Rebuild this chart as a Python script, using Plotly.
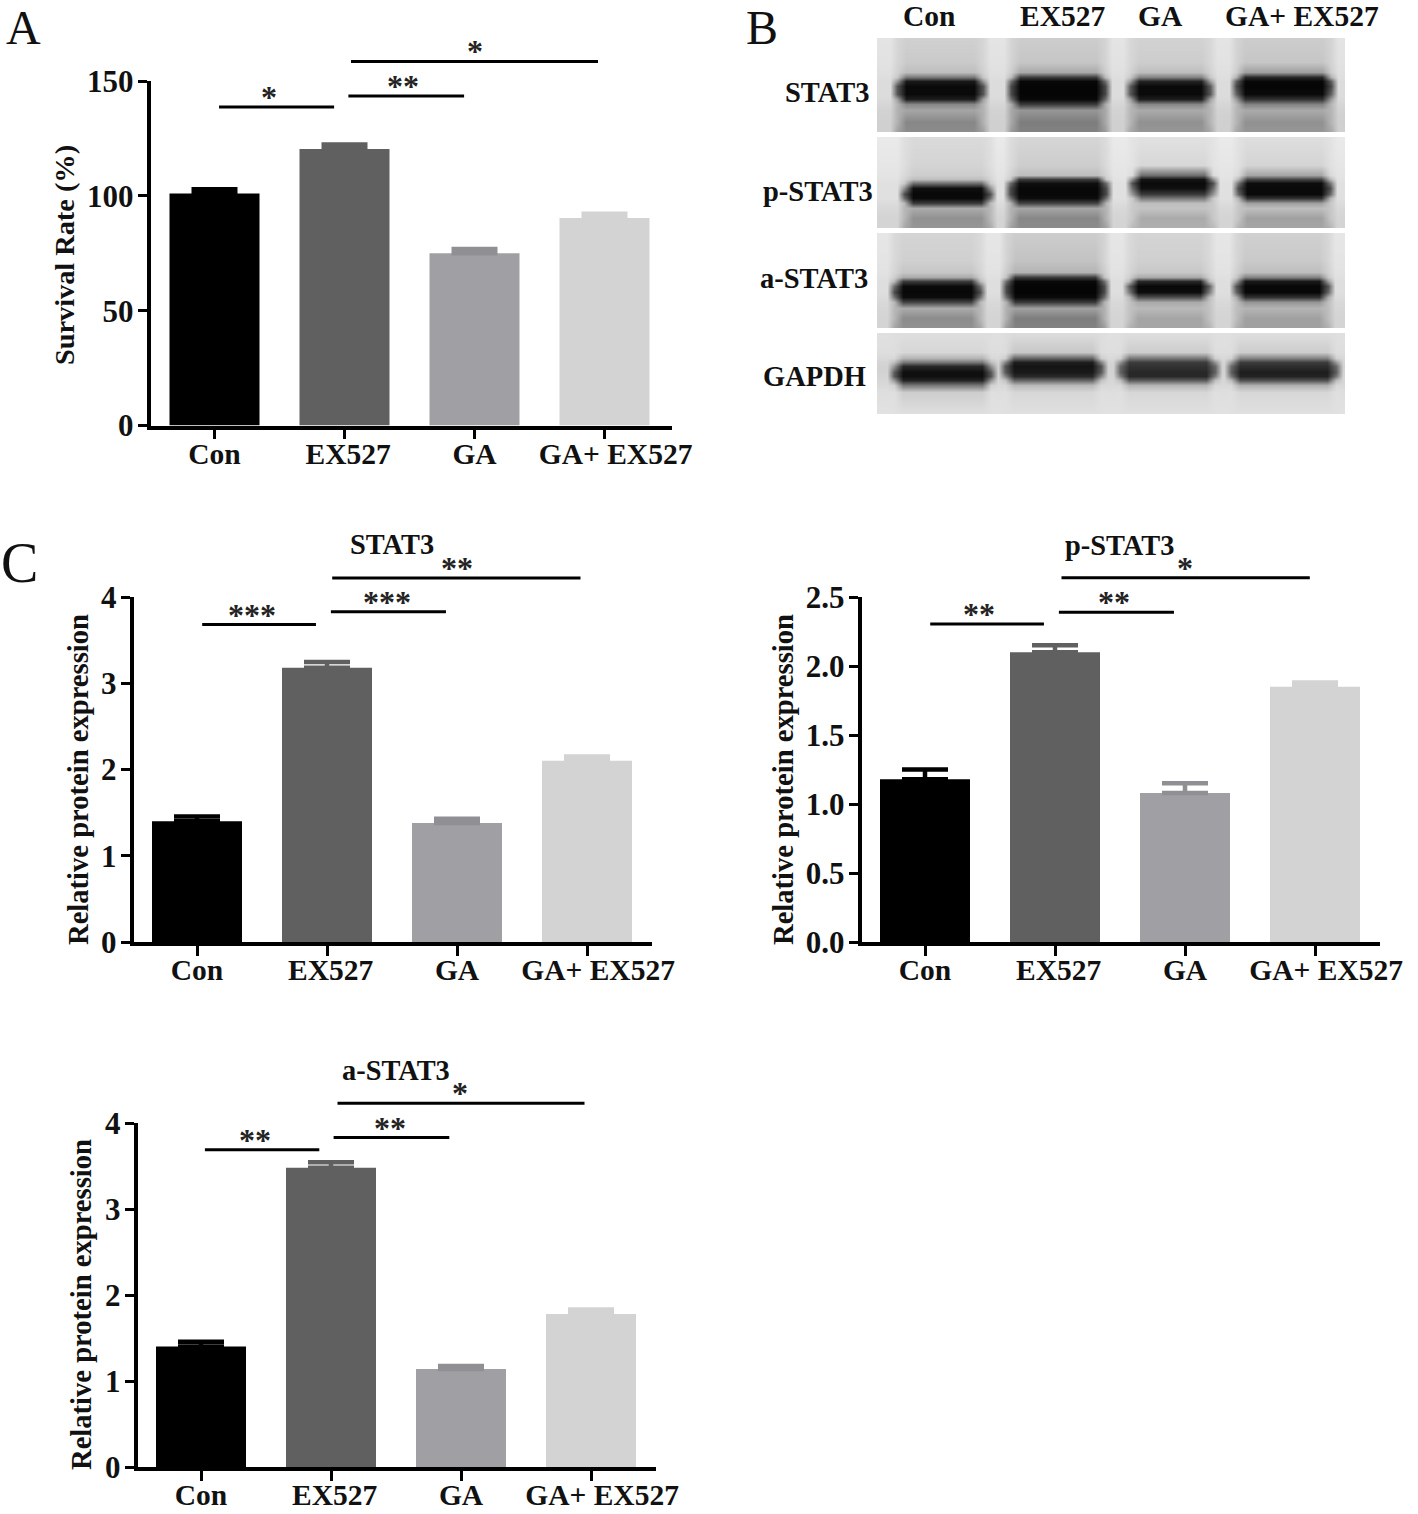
import plotly.graph_objects as go

W, H = 1418, 1514
FONT = "Liberation Serif"

# ---------- data ----------
categories = ["Con", "EX527", "GA", "GA+ EX527"]
bar_colors = ["#000000", "#606060", "#a0a0a4", "#d3d3d3"]
err_colors = ["#000000", "#606060", "#909094", "#d3d3d3"]

survival_values = [101, 120.4, 75, 90.3]
survival_err = [1.9, 1.9, 1.9, 1.9]
survival_ticks = [0, 50, 100, 150]
survival_sig_x0 = [0.035, 1.03, 1.05]
survival_sig_x1 = [0.92, 1.92, 2.95]
survival_sig_y = [138.7, 143.5, 158.5]
survival_sig_label = ["*", "**", "*"]
survival_star_x = [0.42, 1.45, 2.0]

stat3_values = [1.40, 3.18, 1.38, 2.10]
stat3_err = [0.055, 0.065, 0.05, 0.05]
stat3_ticks = [0, 1, 2, 3, 4]
stat3_sig_x0 = [0.04, 1.03, 1.04]
stat3_sig_x1 = [0.915, 1.915, 2.95]
stat3_sig_y = [3.68, 3.83, 4.22]
stat3_sig_label = ["***", "***", "**"]
stat3_star_x = [0.42, 1.46, 2.0]

pstat3_values = [1.18, 2.10, 1.08, 1.85]
pstat3_err = [0.07, 0.05, 0.07, 0.03]
pstat3_ticks = [0.0, 0.5, 1.0, 1.5, 2.0, 2.5]
pstat3_sig_x0 = [0.04, 1.03, 1.05]
pstat3_sig_x1 = [0.915, 1.915, 2.96]
pstat3_sig_y = [2.305, 2.39, 2.64]
pstat3_sig_label = ["**", "**", "*"]
pstat3_star_x = [0.415, 1.45, 2.0]

astat3_values = [1.40, 3.48, 1.14, 1.78]
astat3_err = [0.055, 0.065, 0.035, 0.05]
astat3_ticks = [0, 1, 2, 3, 4]
astat3_sig_x0 = [0.03, 1.02, 1.05]
astat3_sig_x1 = [0.91, 1.91, 2.95]
astat3_sig_y = [3.69, 3.83, 4.23]
astat3_sig_label = ["**", "**", "*"]
astat3_star_x = [0.415, 1.45, 1.99]

# blot grey levels (0 black .. 255 white), one list per lane
blot_names = ["STAT3", "p-STAT3", "a-STAT3", "GAPDH"]
stat3_rows = [38, 62, 72, 77, 81, 86, 94, 99, 104, 110, 122, 132]
stat3_gap = [228, 226, 224, 222, 220, 220, 220, 218, 214, 210, 208, 208]
stat3_l1 = [208, 202, 190, 120, 25, 10, 10, 30, 135, 165, 135, 140]
stat3_l2 = [205, 198, 170, 60, 8, 5, 5, 8, 60, 150, 125, 130]
stat3_l3 = [210, 205, 190, 130, 35, 10, 10, 30, 135, 170, 145, 150]
stat3_l4 = [205, 198, 160, 40, 8, 5, 10, 50, 130, 170, 145, 150]
stat3_lanes = [898, 982, 1012, 1104, 1131, 1209, 1237, 1330]

pstat3_rows = [137, 165, 175, 179, 183, 188, 194, 198, 203, 208, 218, 228]
pstat3_gap = [234, 230, 228, 226, 224, 224, 224, 224, 220, 216, 212, 212]
pstat3_l1 = [218, 212, 205, 190, 110, 15, 8, 10, 60, 170, 145, 150]
pstat3_l2 = [214, 205, 190, 60, 15, 8, 8, 12, 70, 165, 135, 140]
pstat3_l3 = [225, 215, 110, 20, 10, 15, 60, 120, 190, 195, 170, 175]
pstat3_l4 = [222, 212, 165, 70, 12, 10, 10, 50, 160, 190, 160, 165]
pstat3_lanes = [905, 989, 1011, 1105, 1133, 1212, 1239, 1329]

astat3_rows = [233, 260, 272, 277, 281, 286, 292, 297, 302, 308, 318, 328]
astat3_gap = [230, 228, 226, 224, 222, 222, 222, 220, 216, 214, 212, 212]
astat3_l1 = [212, 208, 198, 170, 60, 10, 8, 12, 70, 170, 140, 145]
astat3_l2 = [205, 195, 180, 60, 10, 5, 5, 10, 60, 160, 125, 130]
astat3_l3 = [212, 208, 200, 170, 40, 8, 12, 80, 170, 185, 165, 165]
astat3_l4 = [208, 202, 190, 130, 25, 8, 8, 50, 150, 180, 160, 160]
astat3_lanes = [895, 979, 1007, 1103, 1130, 1208, 1237, 1327]

gapdh_rows = [333, 352, 358, 362, 366, 372, 376, 380, 385, 392, 414]
gapdh_gap = [224, 222, 217, 212, 210, 210, 212, 214, 217, 222, 226]
gapdh_l1 = [222, 215, 180, 120, 40, 15, 15, 35, 120, 205, 224]
gapdh_l2 = [220, 200, 100, 30, 20, 25, 40, 100, 185, 215, 224]
gapdh_l3 = [222, 205, 120, 60, 50, 40, 40, 90, 180, 215, 224]
gapdh_l4 = [222, 205, 130, 60, 45, 30, 35, 80, 175, 215, 224]
gapdh_lanes = [895, 990, 1006, 1100, 1121, 1214, 1232, 1335]


def px(x):
    return x / W


def py(y):
    return 1 - y / H


fig = go.Figure()
annotations = []


def text(s, x, y, size=28, bold=True, xanchor="center", angle=0):
    annotations.append(dict(
        text=s, x=px(x), y=py(y), xref="paper", yref="paper", showarrow=False,
        xanchor=xanchor, yanchor="middle", textangle=angle,
        font=dict(family=FONT, size=size, color="#111111", weight=700 if bold else 400),
    ))


panels = [
    dict(ax_x=150.5, right=672, top=81, zero=425.5, c0=214.5, ymax=150,
         values=survival_values, err=survival_err, ticks=survival_ticks, fmt="d",
         sig=(survival_sig_x0, survival_sig_x1, survival_sig_y, survival_sig_label, survival_star_x)),
    dict(ax_x=133.5, right=652, top=597, zero=942, c0=197, ymax=4,
         values=stat3_values, err=stat3_err, ticks=stat3_ticks, fmt="d",
         sig=(stat3_sig_x0, stat3_sig_x1, stat3_sig_y, stat3_sig_label, stat3_star_x)),
    dict(ax_x=861.5, right=1380, top=597, zero=942, c0=925, ymax=2.5,
         values=pstat3_values, err=pstat3_err, ticks=pstat3_ticks, fmt=".1f",
         sig=(pstat3_sig_x0, pstat3_sig_x1, pstat3_sig_y, pstat3_sig_label, pstat3_star_x)),
    dict(ax_x=137.5, right=656, top=1123, zero=1467, c0=201, ymax=4,
         values=astat3_values, err=astat3_err, ticks=astat3_ticks, fmt="d",
         sig=(astat3_sig_x0, astat3_sig_x1, astat3_sig_y, astat3_sig_label, astat3_star_x)),
]

SPACING = 130
SIG_HEADROOM = 70  # pixels of extra space above the top tick for significance lines
layout_axes = {}
axis_n = 0
axis_lw = 3.5
tick_x_font = dict(family=FONT, size=29.5, color="#111111", weight=700)
tick_y_font = dict(family=FONT, size=31, color="#111111", weight=700)
# some labels sit a little right of their tick in the reference
tick_text = [categories[0], "\u00a0" + categories[1], categories[2],
             "\u00a0\u00a0\u00a0" + categories[3]]

for p in panels:
    axis_n += 1
    xname = "x" if axis_n == 1 else f"x{axis_n}"
    yname = "y" if axis_n == 1 else f"y{axis_n}"
    xkey = "xaxis" if axis_n == 1 else f"xaxis{axis_n}"
    ykey = "yaxis" if axis_n == 1 else f"yaxis{axis_n}"
    xrange_ = [(p["ax_x"] - p["c0"]) / SPACING, (p["right"] - p["c0"]) / SPACING]
    xdomain = [px(p["ax_x"]), px(p["right"])]
    for i, cat in enumerate(categories):
        fig.add_trace(go.Bar(
            x=[i], y=[p["values"][i]], name=cat, width=90 / SPACING,
            marker=dict(color=bar_colors[i], line_width=0), showlegend=False,
            error_y=dict(type="data", symmetric=False, array=[p["err"][i]], arrayminus=[0],
                         color=err_colors[i], thickness=4.5, width=23),
            xaxis=xname, yaxis=yname,
        ))
    layout_axes[xkey] = dict(
        domain=xdomain, anchor=yname, range=xrange_,
        tickmode="array", tickvals=list(range(4)), ticktext=tick_text,
        ticks="outside", ticklen=10, tickwidth=3, tickcolor="#000000",
        showline=True, linecolor="#000000", linewidth=axis_lw, showgrid=False, zeroline=False,
        tickfont=tick_x_font, ticklabelstandoff=-11,
    )
    layout_axes[ykey] = dict(
        domain=[py(p["zero"]), py(p["top"])], anchor=xname, range=[0, p["ymax"]],
        tickmode="array", tickvals=p["ticks"],
        ticktext=[format(t, p["fmt"]) for t in p["ticks"]],
        ticks="outside", ticklen=9, tickwidth=3, tickcolor="#000000",
        showline=True, linecolor="#000000", linewidth=axis_lw, showgrid=False, zeroline=False,
        tickfont=tick_y_font, ticklabelstandoff=-2,
    )

# significance brackets: hidden axes with the same scale but room above the top tick
for p in panels:
    axis_n += 1
    xname, yname = f"x{axis_n}", f"y{axis_n}"
    sig_top = p["top"] - SIG_HEADROOM
    sig_max = p["ymax"] * (p["zero"] - sig_top) / (p["zero"] - p["top"])
    x0s, x1s, ys, labs, star_x = p["sig"]
    for a, b, y, lab, sx in zip(x0s, x1s, ys, labs, star_x):
        fig.add_trace(go.Scatter(
            x=[a, b], y=[y, y], mode="lines", showlegend=False,
            line=dict(color="#000000", width=3), xaxis=xname, yaxis=yname,
        ))
        annotations.append(dict(
            text=lab, x=sx, y=y, xref=xname, yref=yname, showarrow=False,
            xanchor="center", yanchor="middle", yshift=10,
            font=dict(family=FONT, size=32, color="#222222", weight=700),
        ))
    layout_axes[f"xaxis{axis_n}"] = dict(
        domain=[px(p["ax_x"]), px(p["right"])], anchor=yname, visible=False,
        range=[(p["ax_x"] - p["c0"]) / SPACING, (p["right"] - p["c0"]) / SPACING],
    )
    layout_axes[f"yaxis{axis_n}"] = dict(
        domain=[py(p["zero"]), py(sig_top)], anchor=xname, visible=False, range=[0, sig_max],
    )

# western blot strips
blots = [
    (stat3_rows, stat3_gap, [stat3_l1, stat3_l2, stat3_l3, stat3_l4], stat3_lanes),
    (pstat3_rows, pstat3_gap, [pstat3_l1, pstat3_l2, pstat3_l3, pstat3_l4], pstat3_lanes),
    (astat3_rows, astat3_gap, [astat3_l1, astat3_l2, astat3_l3, astat3_l4], astat3_lanes),
    (gapdh_rows, gapdh_gap, [gapdh_l1, gapdh_l2, gapdh_l3, gapdh_l4], gapdh_lanes),
]
BLOT_L, BLOT_R = 877, 1345


def lane_edge(lane, gap):
    """Band ends are thinner than the band: narrow the dark part, mix in background."""
    out = []
    for k in range(len(lane)):
        lo, hi = max(k - 1, 0), min(k + 1, len(lane) - 1)
        out.append(0.7 * max(lane[lo], lane[k], lane[hi]) + 0.3 * gap[k])
    return out


for rows, gap, lanes, edges in blots:
    axis_n += 1
    xnodes = [BLOT_L]
    for e in range(0, 8, 2):
        a, b = edges[e], edges[e + 1]
        xnodes += [a - 8, a - 1, a + 8, b - 8, b + 1, b + 8]
    xnodes.append(BLOT_R)
    lane_edges = [lane_edge(l, gap) for l in lanes]
    z = []
    for k in range(len(rows)):
        row = [gap[k]]
        for lane, le in zip(lanes, lane_edges):
            row += [gap[k], le[k], lane[k], lane[k], le[k], gap[k]]
        row.append(gap[k])
        z.append(row)
    fig.add_trace(go.Heatmap(
        x=xnodes, y=rows, z=z, zmin=0, zmax=255, zsmooth="best", showscale=False,
        colorscale=[[0, "#000000"], [1, "#ffffff"]], hoverinfo="skip",
        xaxis=f"x{axis_n}", yaxis=f"y{axis_n}",
    ))
    layout_axes[f"xaxis{axis_n}"] = dict(
        domain=[px(BLOT_L), px(BLOT_R)], range=[BLOT_L, BLOT_R], visible=False,
        anchor=f"y{axis_n}",
    )
    layout_axes[f"yaxis{axis_n}"] = dict(
        domain=[py(rows[-1]), py(rows[0])], range=[rows[-1], rows[0]], visible=False,
        anchor=f"x{axis_n}",
    )

# panel letters
text("A", 23, 27, size=48, bold=False)
text("B", 762, 27, size=48, bold=False)
text("C", 19, 563, size=56, bold=False)

# y titles
text("Survival Rate (%)", 64, 255, size=28.3, angle=-90)
text("Relative protein expression", 78, 780, size=28.6, angle=-90)
text("Relative protein expression", 783, 780, size=28.6, angle=-90)
text("Relative protein expression", 81, 1305, size=28.6, angle=-90)

# panel titles
text("STAT3", 392, 544, size=28.4)
text("p-STAT3", 1119, 545, size=28.4)
text("a-STAT3", 396, 1070, size=28.4)

# blot headers and row labels
text(categories[0], 929, 16, size=29.5)
text(categories[1], 1062, 16, size=29.5)
text(categories[2], 1160, 16, size=29.5)
text(categories[3], 1302, 16, size=29.5)
text(blot_names[0], 871, 92, size=28.5, xanchor="right")
text(blot_names[1], 875, 191, size=28.5, xanchor="right")
text(blot_names[2], 870, 279, size=28.5, xanchor="right")
text(blot_names[3], 868, 376, size=28.5, xanchor="right")

fig.update_layout(
    width=W, height=H, margin=dict(l=0, r=0, t=0, b=0, autoexpand=False),
    paper_bgcolor="#ffffff", plot_bgcolor="rgba(0,0,0,0)", showlegend=False,
    barmode="overlay", annotations=annotations, **layout_axes,
)
fig.write_html("out.html", config={"displayModeBar": False},
               post_script="document.body.style.margin='0';")
